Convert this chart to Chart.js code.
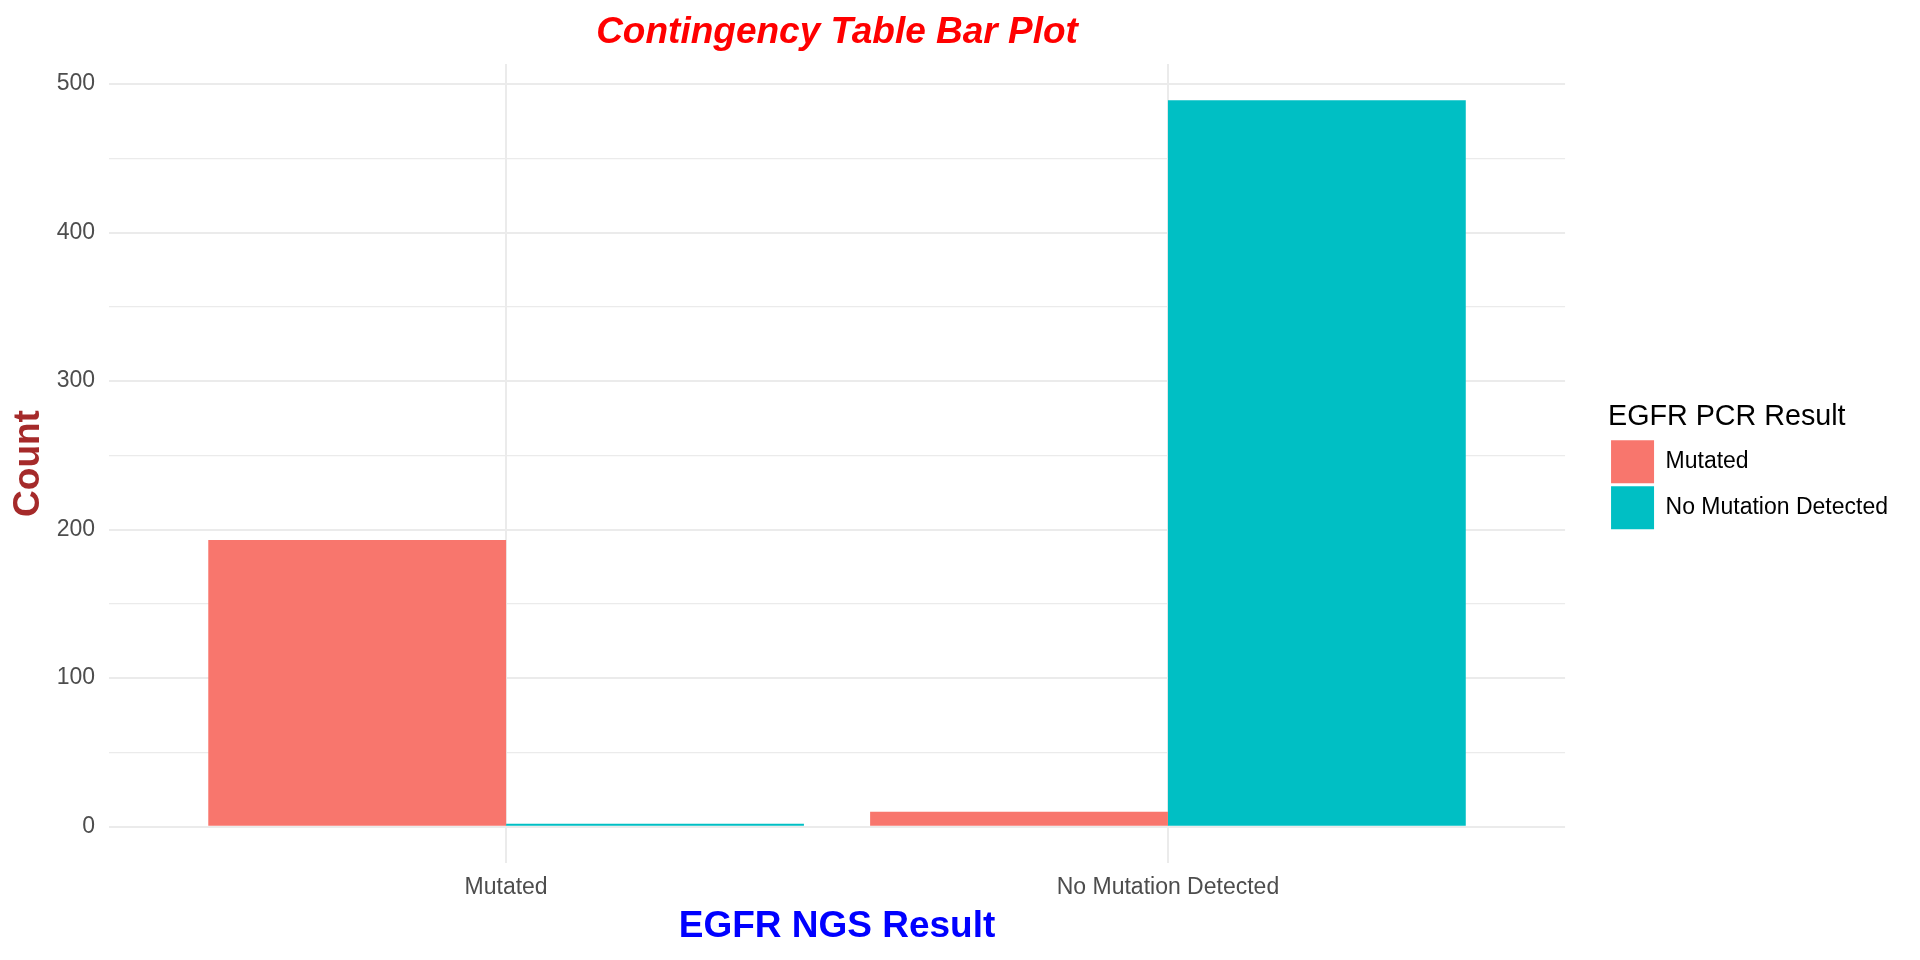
<!DOCTYPE html>
<html>
<head>
<meta charset="utf-8">
<script src="https://cdn.jsdelivr.net/npm/chart.js@4"></script>
<style>
  html, body { margin: 0; padding: 0; background: #fff; }
  #wrap { width: 1920px; height: 960px; position: relative; }
</style>
</head>
<body>
<div id="wrap"><canvas id="chart"></canvas></div>
<script>
// EGFR NGS result on the x axis, EGFR PCR result as the fill
const ngsCategories = ['Mutated', 'No Mutation Detected'];
const pcrMutated = [193, 10];
const pcrNoMutation = [2, 489];
const yTicks = [0, 50, 100, 150, 200, 250, 300, 350, 400, 450, 500];

const FONT = "'Liberation Sans', Arial, sans-serif";
const GRID = '#EBEBEB';

const toPoints = (values) => values.map((v, i) => ({ x: i + 1, y: v }));

new Chart(document.getElementById('chart'), {
  type: 'bar',
  data: {
    datasets: [
      {
        label: 'Mutated',
        data: toPoints(pcrMutated),
        backgroundColor: '#F8766D',
        borderWidth: 0
      },
      {
        label: 'No Mutation Detected',
        data: toPoints(pcrNoMutation),
        backgroundColor: '#00BFC4',
        borderWidth: 0
      }
    ]
  },
  options: {
    responsive: true,
    maintainAspectRatio: false,
    animation: false,
    categoryPercentage: 0.9,
    barPercentage: 1,
    layout: { padding: { left: 3, right: 22, top: 0, bottom: 0 } },
    plugins: {
      tooltip: { enabled: false },
      title: {
        display: true,
        text: 'Contingency Table Bar Plot',
        color: '#FF0000',
        fullSize: false,
        font: { family: FONT, size: 37, weight: 'bold', style: 'italic' },
        padding: { top: 11, bottom: 8.6 }
      },
      legend: {
        position: 'right',
        align: 'center',
        fullSize: false,
        title: {
          display: true,
          text: 'EGFR PCR Result',
          position: 'start',
          color: '#000000',
          font: { family: FONT, size: 28.7 },
          padding: { top: 8, bottom: 0 }
        },
        labels: {
          boxWidth: 43,
          boxHeight: 43,
          padding: 3,
          color: '#000000',
          font: { family: FONT, size: 23 }
        }
      }
    },
    scales: {
      x: {
        type: 'linear',
        min: 0.4,
        max: 2.6,
        offset: false,
        afterBuildTicks: (scale) => {
          scale.ticks = ngsCategories.map((c, i) => ({ value: i + 1 }));
        },
        grid: { offset: false, color: GRID, lineWidth: 2, drawTicks: false },
        border: { display: false },
        ticks: {
          color: '#4D4D4D',
          font: { family: FONT, size: 23 },
          padding: 11,
          maxRotation: 0,
          autoSkip: false,
          callback: (value) => ngsCategories[value - 1] || ''
        },
        title: {
          display: true,
          text: 'EGFR NGS Result',
          color: '#0000FF',
          font: { family: FONT, size: 37, weight: 'bold' },
          padding: { top: -8, bottom: 11 }
        }
      },
      y: {
        min: -24.45,
        max: 513.45,
        afterBuildTicks: (scale) => {
          scale.ticks = yTicks.map(v => ({ value: v }));
        },
        afterFit: (scale) => { scale.width = 106; },
        grid: {
          color: GRID,
          lineWidth: (ctx) => (ctx.tick && ctx.tick.value % 100 === 0 ? 2 : 1.2),
          drawTicks: false
        },
        border: { display: false },
        ticks: {
          color: '#4D4D4D',
          font: { family: FONT, size: 23 },
          padding: 14,
          autoSkip: false,
          callback: (value) => (value % 100 === 0 ? value : '')
        },
        title: {
          display: true,
          text: 'Count',
          color: '#A52A2A',
          font: { family: FONT, size: 37, weight: 'bold' },
          padding: { top: 4, bottom: 4 }
        }
      },
      gap: {
        type: 'linear',
        position: 'right',
        display: true,
        grid: { display: false, drawTicks: false },
        border: { display: false },
        ticks: { display: false },
        afterFit: (scale) => { scale.width = 43; }
      }
    }
  }
});
</script>
</body>
</html>
